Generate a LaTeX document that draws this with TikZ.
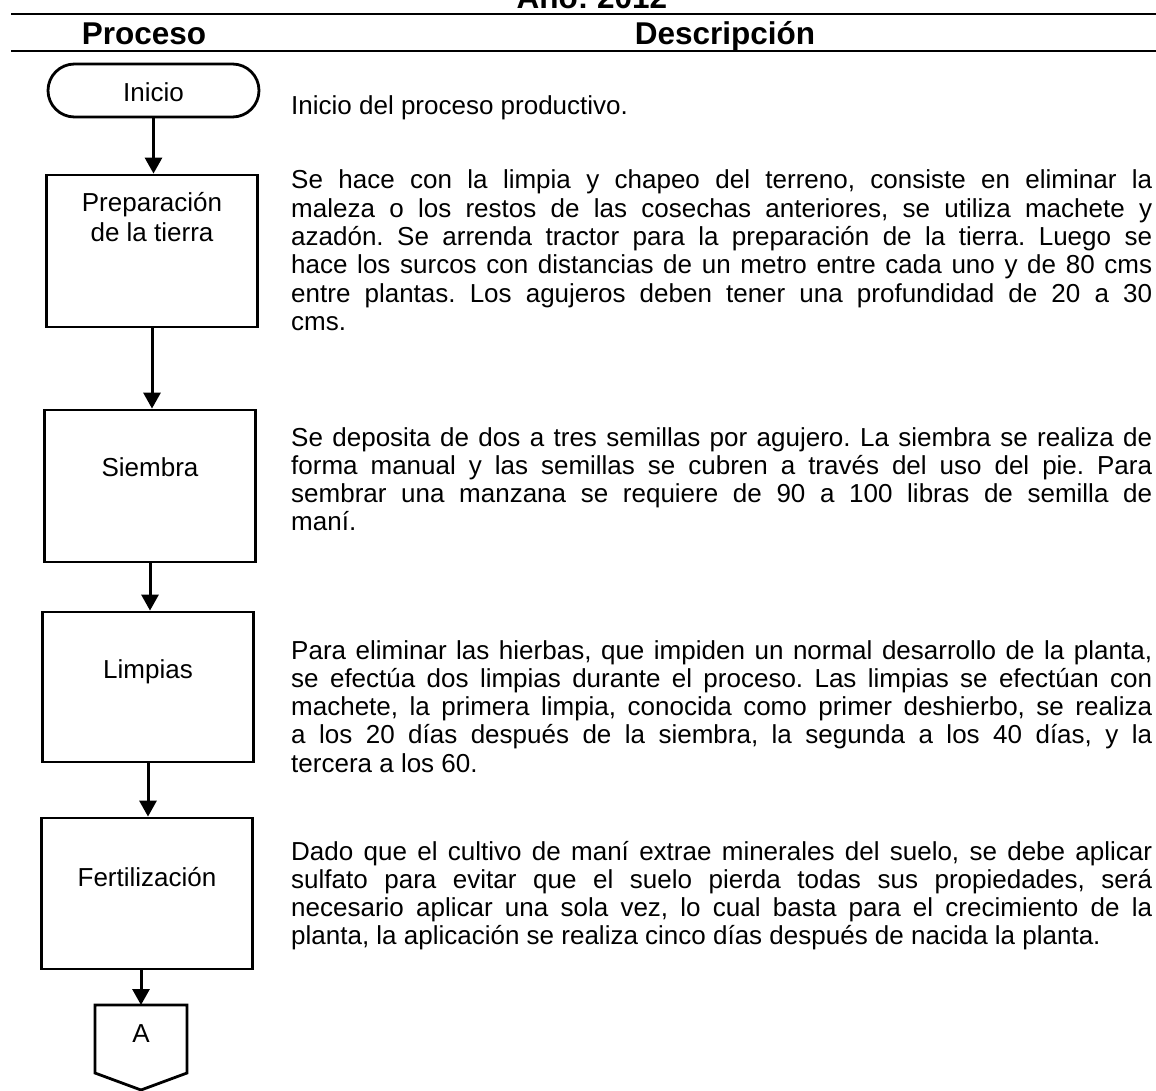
\documentclass[tikz,border=0pt]{standalone}
\usepackage{fontspec}
\setmainfont{Liberation Sans}
\usetikzlibrary{arrows.meta,shapes.misc}
\frenchspacing
\newcommand{\justline}[1]{\makebox[\linewidth][s]{#1}\\}
\newcommand{\descfont}{\fontsize{26pt}{28.3pt}\selectfont\frenchspacing}
\tikzset{
  box/.style={draw, line width=2.8pt, minimum width=211pt, inner sep=0pt},
  term/.style={draw, line width=2.8pt, rounded rectangle, minimum width=211pt, minimum height=53pt, inner sep=0pt},
  lbl/.style={font=\fontsize{26pt}{30pt}\selectfont, inner sep=0pt, anchor=base, align=center},
  hdr/.style={font=\fontsize{31.5pt}{34pt}\selectfont\bfseries, inner sep=0pt, anchor=base},
  flow/.style={line width=3pt, -{Triangle[width=17pt,length=16pt]}},
  rulebar/.style={line width=2.8pt},
  desc/.style={inner sep=0pt, anchor=base west},
}
\begin{document}
\begin{tikzpicture}[x=1pt,y=-1pt]
\useasboundingbox (0,0) rectangle (1156,1091);
% header
\node[hdr] (anio) at (592,9) {Año: 2012};
\coordinate (r1a) at (11,14);
\coordinate (r1b) at (1156,14);
\coordinate (r2a) at (11,51);
\coordinate (r2b) at (1156,51);
\draw[rulebar] (r1a) -- (r1b);
\draw[rulebar] (r2a) -- (r2b);
\node[hdr] (hproc) at (144,45) {Proceso};
\node[hdr] (hdesc) at (725,45) {Descripción};
% flowchart
\node[term] (inicio) at (153.5,90.5) {};
\node[lbl] (linicio) at (inicio.center) [yshift=-11.5pt] {Inicio};
\node[box, minimum height=152pt] (prep) at (152,251) {};
\node[lbl] (lprep) at (152,242) {Preparación\\de la tierra};
\node[box, minimum height=152pt] (siem) at (150,486) {};
\node[lbl] (lsiem) at (150,476) {Siembra};
\node[box, minimum height=150pt] (limp) at (148,687) {};
\node[lbl] (llimp) at (148,678) {Limpias};
\node[box, minimum height=151pt] (fert) at (147,893.5) {};
\node[lbl] (lfert) at (147,886) {Fertilización};
\coordinate (atop) at (141,1005);
\draw[line width=2.8pt] (95,1005) -- (187,1005) -- (187,1073) -- (141,1090) -- (95,1073) -- cycle;
\node[lbl] (la) at (141,1042) {A};
\draw[flow] (inicio.south) -- (inicio.south |- prep.north);
\draw[flow] (prep.south) -- (prep.south |- siem.north);
\draw[flow] (siem.south) -- (siem.south |- limp.north);
\draw[flow] (limp.south) -- (limp.south |- fert.north);
\draw[flow] (fert.south -| atop) -- (atop);
% descriptions
\node[desc] (dinicio) at (291,115) {\parbox[t]{861pt}{\descfont Inicio del proceso productivo.}};
\node[desc] (dprep) at (291,189) {\parbox[t]{861pt}{\descfont
\justline{Se hace con la limpia y chapeo del terreno, consiste en eliminar la}
\justline{maleza o los restos de las cosechas anteriores, se utiliza machete y}
\justline{azadón. Se arrenda tractor para la preparación de la tierra. Luego se}
\justline{hace los surcos con distancias de un metro entre cada uno y de 80 cms}
\justline{entre plantas. Los agujeros deben tener una profundidad de 20 a 30}
cms.}};
\node[desc] (dsiem) at (291,446) {\parbox[t]{861pt}{\descfont
\justline{Se deposita de dos a tres semillas por agujero. La siembra se realiza de}
\justline{forma manual y las semillas se cubren a través del uso del pie. Para}
\justline{sembrar una manzana se requiere de 90 a 100 libras de semilla de}
maní.}};
\node[desc] (dlimp) at (291,659) {\parbox[t]{861pt}{\descfont
\justline{Para eliminar las hierbas, que impiden un normal desarrollo de la planta,}
\justline{se efectúa dos limpias durante el proceso. Las limpias se efectúan con}
\justline{machete, la primera limpia, conocida como primer deshierbo, se realiza}
\justline{a los 20 días después de la siembra, la segunda a los 40 días, y la}
tercera a los 60.}};
\node[desc] (dfert) at (291,860) {\parbox[t]{861pt}{\descfont
\justline{Dado que el cultivo de maní extrae minerales del suelo, se debe aplicar}
\justline{sulfato para evitar que el suelo pierda todas sus propiedades, será}
\justline{necesario aplicar una sola vez, lo cual basta para el crecimiento de la}
planta, la aplicación se realiza cinco días después de nacida la planta.}};
\end{tikzpicture}
\end{document}
